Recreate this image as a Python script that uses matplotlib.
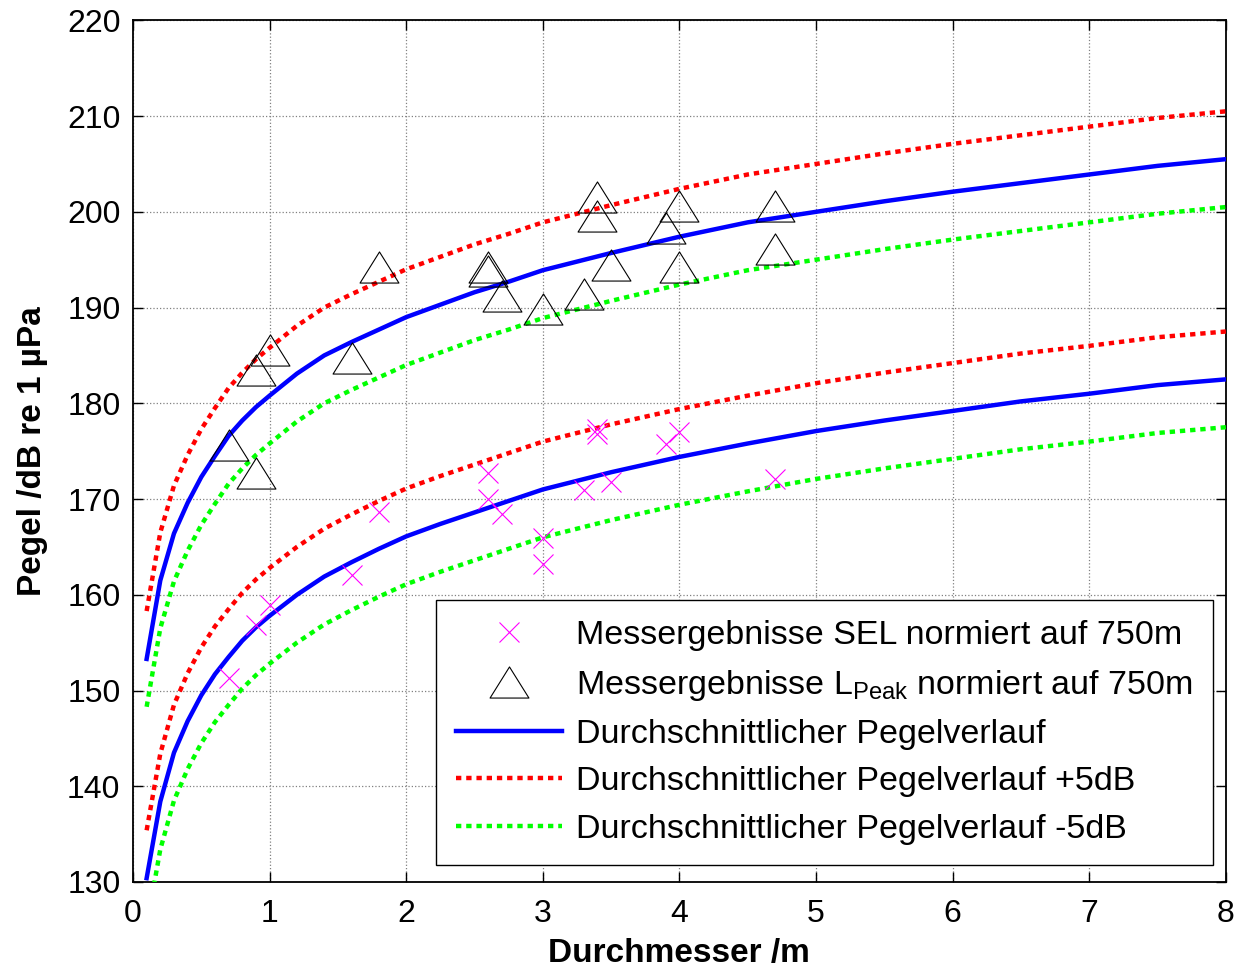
import matplotlib
matplotlib.use("Agg")
import matplotlib.pyplot as plt
from matplotlib.path import Path

plt.rcParams['font.family'] = ['Liberation Sans', 'DejaVu Sans']
plt.rcParams['mathtext.fontset'] = 'custom'
plt.rcParams['mathtext.rm'] = 'Liberation Sans'
plt.rcParams['mathtext.it'] = 'Liberation Sans'

# ---- data ----
x_curve = [0.1, 0.2, 0.3, 0.4, 0.5, 0.6, 0.7, 0.8, 0.9, 1.0, 1.2, 1.4, 1.6, 1.8, 2.0,
           2.25, 2.5, 2.75, 3.0, 3.5, 4.0, 4.5, 5.0, 5.5, 6.0, 6.5, 7.0, 7.5, 8.0]

peak_avg = [153.3, 161.5, 166.4, 169.6, 172.3, 174.5, 176.6, 178.2, 179.6, 180.8, 183.1, 185.0,
            186.4, 187.7, 189.0, 190.3, 191.6, 192.7, 193.9, 195.7, 197.4, 198.9, 200.0, 201.1,
            202.1, 203.0, 203.9, 204.8, 205.5]
peak_plus5 = [158.3, 166.5, 171.4, 174.6, 177.3, 179.5, 181.6, 183.2, 184.6, 185.8, 188.1, 190.0,
              191.4, 192.7, 194.0, 195.3, 196.6, 197.7, 198.9, 200.7, 202.4, 203.9, 205.0, 206.1,
              207.1, 208.0, 208.9, 209.8, 210.5]
peak_minus5 = [148.3, 156.5, 161.4, 164.6, 167.3, 169.5, 171.6, 173.2, 174.6, 175.8, 178.1, 180.0,
               181.4, 182.7, 184.0, 185.3, 186.6, 187.7, 188.9, 190.7, 192.4, 193.9, 195.0, 196.1,
               197.1, 198.0, 198.9, 199.8, 200.5]

sel_avg = [130.4, 138.4, 143.5, 146.8, 149.5, 151.7, 153.5, 155.2, 156.6, 157.8, 160.0, 161.9,
           163.4, 164.8, 166.1, 167.4, 168.6, 169.8, 171.0, 172.8, 174.4, 175.8, 177.1, 178.2,
           179.2, 180.2, 181.0, 181.9, 182.5]
sel_plus5 = [135.4, 143.4, 148.5, 151.8, 154.5, 156.7, 158.5, 160.2, 161.6, 162.8, 165.0, 166.9,
             168.4, 169.8, 171.1, 172.4, 173.6, 174.8, 176.0, 177.8, 179.4, 180.8, 182.1, 183.2,
             184.2, 185.2, 186.0, 186.9, 187.5]
sel_minus5 = [125.4, 133.4, 138.5, 141.8, 144.5, 146.7, 148.5, 150.2, 151.6, 152.8, 155.0, 156.9,
              158.4, 159.8, 161.1, 162.4, 163.6, 164.8, 166.0, 167.8, 169.4, 170.8, 172.1, 173.2,
              174.2, 175.2, 176.0, 176.9, 177.5]

sel_x = [0.7, 0.9, 1.0, 1.6, 1.8, 2.6, 2.6, 2.7, 3.0, 3.0, 3.3, 3.4, 3.4, 3.5, 3.9, 4.0, 4.7]
sel_y = [151.3, 156.8, 158.9, 162.1, 168.6, 172.7, 170.0, 168.4, 165.9, 163.2, 170.9, 177.3,
         176.8, 171.8, 175.7, 177.0, 172.1]

peak_x = [0.7, 0.9, 0.9, 1.0, 1.6, 1.8, 2.6, 2.6, 2.7, 3.0, 3.3, 3.4, 3.4, 3.5, 3.9, 4.0, 4.0,
          4.7, 4.7]
peak_y = [175.6, 172.7, 183.5, 185.6, 184.7, 194.2, 194.2, 193.8, 191.2, 189.9, 191.4, 201.5,
          199.6, 194.4, 198.3, 200.6, 194.2, 200.6, 196.1]

x_ticks = [0, 1, 2, 3, 4, 5, 6, 7, 8]
y_ticks = [130, 140, 150, 160, 170, 180, 190, 200, 210, 220]

labels = ['Messergebnisse SEL normiert auf 750m',
          'Messergebnisse L$_{\\mathrm{Peak}}$ normiert auf 750m',
          'Durchschnittlicher Pegelverlauf',
          'Durchschnittlicher Pegelverlauf +5dB',
          'Durchschnittlicher Pegelverlauf -5dB']

# ---- figure ----
fig = plt.figure(figsize=(12.37, 9.69), dpi=100)
ax = fig.add_axes([0.1075, 0.0898, 0.8835, 0.8892])

tri = Path([(-1.0, -0.8), (1.0, -0.8), (0.0, 0.8), (-1.0, -0.8)],
           [Path.MOVETO, Path.LINETO, Path.LINETO, Path.CLOSEPOLY])

dot = (0, (1.2, 1.1))
lw = 3.2

h_sel, = ax.plot(sel_x, sel_y, linestyle='none', marker='x', color='#ff00ff',
                 markersize=15, markeredgewidth=0.8, zorder=5)
h_peak, = ax.plot(peak_x, peak_y, linestyle='none', marker=tri, markerfacecolor='none',
                  markeredgecolor='black', markersize=28, markeredgewidth=0.8, zorder=5)
h_avg, = ax.plot(x_curve, peak_avg, color='#0000ff', lw=lw, zorder=4)
ax.plot(x_curve, sel_avg, color='#0000ff', lw=lw, zorder=4)
h_p5, = ax.plot(x_curve, peak_plus5, color='#ff0000', lw=lw, linestyle=dot, zorder=3)
ax.plot(x_curve, sel_plus5, color='#ff0000', lw=lw, linestyle=dot, zorder=3)
h_m5, = ax.plot(x_curve, peak_minus5, color='#00ff00', lw=lw, linestyle=dot, zorder=3)
ax.plot(x_curve, sel_minus5, color='#00ff00', lw=lw, linestyle=dot, zorder=3)

ax.set_xlim(0, 8)
ax.set_ylim(130, 220)
ax.set_xticks(x_ticks)
ax.set_yticks(y_ticks)
ax.grid(True, color='#808080', linestyle=':', linewidth=0.9)
ax.set_axisbelow(True)
ax.tick_params(direction='in', length=7, width=1.0, top=True, right=True, labelsize=23)
ax.tick_params(axis='x', pad=12)
ax.tick_params(axis='y', pad=9)
for s in ax.spines.values():
    s.set_linewidth(1.3)
    s.set_color('black')

ax.set_xlabel('Durchmesser /m', fontsize=24, fontweight='bold', labelpad=7)
ax.set_ylabel('Pegel /dB re 1 µPa', fontsize=24, fontweight='bold', labelpad=14)

leg = ax.legend([h_sel, h_peak, h_avg, h_p5, h_m5], labels,
                loc='lower right', bbox_to_anchor=(0.988, 0.0197), borderaxespad=0,
                fontsize=24.5, numpoints=1, handlelength=3.1, handletextpad=0.42,
                labelspacing=0.48, borderpad=0.6, frameon=True, fancybox=False,
                framealpha=1, edgecolor='black')
leg.get_frame().set_linewidth(1.0)
leg.set_zorder(10)

fig.savefig('out.png', dpi=100)
